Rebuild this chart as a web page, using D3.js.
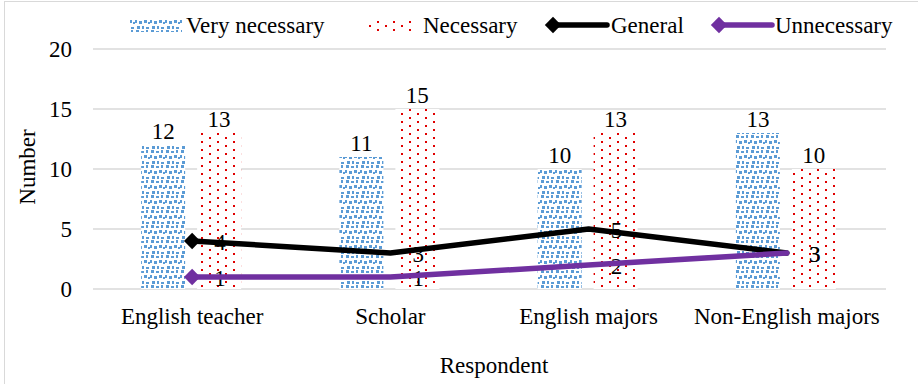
<!DOCTYPE html>
<html>
<head>
<meta charset="utf-8">
<script src="https://cdn.jsdelivr.net/npm/d3@7"></script>
<style>
  body { margin: 0; background: #fff; }
  text { font-family: "Liberation Serif", "Times New Roman", serif; fill: #000; }
</style>
</head>
<body>
<div id="chart"></div>
<script>
var categories = ["English teacher", "Scholar", "English majors", "Non-English majors"];
var veryNecessary = [12, 11, 10, 13];
var necessary = [13, 15, 13, 10];
var general = [4, 3, 5, 3];
var unnecessary = [1, 1, 2, 3];
var yTicks = [0, 5, 10, 15, 20];
var barSeries = ["Very necessary", "Necessary"];

gen_chart();

function gen_chart() {
  var w = 918, h = 384;
  var plotLeft = 93, plotRight = 886, plotTop = 49, plotBottom = 289;
  var fs = 23;

  var svg = d3.select("#chart").append("svg")
    .attr("width", w)
    .attr("height", h);

  // patterns
  var defs = svg.append("defs");
  var pb = defs.append("pattern")
    .attr("id", "confetti")
    .attr("patternUnits", "userSpaceOnUse")
    .attr("width", 15).attr("height", 15);
  pb.append("rect").attr("width", 15).attr("height", 15).attr("fill", "#fff");
  [[1,0,3,3],[6,1,3,2],[11,0,2,3],[0,5,2,3],[4,6,3,3],[9,5,3,3],[13,7,2,2],
   [2,11,3,3],[7,11,2,3],[11,12,3,2],[6,15,0,0]].forEach(function(r) {
    pb.append("rect").attr("x", r[0]).attr("y", r[1]).attr("width", r[2]).attr("height", r[3]).attr("fill", "#5B9BD5");
  });
  var pr = defs.append("pattern")
    .attr("id", "dots")
    .attr("patternUnits", "userSpaceOnUse")
    .attr("width", 16).attr("height", 8);
  pr.append("rect").attr("width", 16).attr("height", 8).attr("fill", "#fff");
  pr.append("rect").attr("x", 1).attr("y", 1).attr("width", 2).attr("height", 2).attr("fill", "#E00000");
  pr.append("rect").attr("x", 9).attr("y", 5).attr("width", 2).attr("height", 2).attr("fill", "#E00000");

  // chart border
  svg.append("rect")
    .attr("x", 4.5).attr("y", 1.5)
    .attr("width", w + 10).attr("height", h + 10)
    .attr("fill", "none")
    .attr("stroke", "#d9d9d9");

  var x0 = d3.scaleBand().domain(categories).range([plotLeft, plotRight]);
  var bw = x0.bandwidth();
  var x1 = d3.scaleBand().domain(barSeries)
    .range([bw / 2 - 51, bw / 2 + 49])
    .paddingInner(0.214);
  var y = d3.scaleLinear().domain([0, 20]).range([plotBottom, plotTop]);

  // gridlines
  svg.append("g").selectAll("line")
    .data(yTicks)
    .enter().append("line")
    .attr("x1", plotLeft).attr("x2", plotRight)
    .attr("y1", function(d) { return y(d); })
    .attr("y2", function(d) { return y(d); })
    .attr("stroke", "#d9d9d9")
    .attr("stroke-width", 1.3);

  // y axis labels
  var yaxis = d3.axisLeft(y).tickValues(yTicks).tickSize(0).tickPadding(0);
  var yg = svg.append("g")
    .attr("transform", "translate(72,0)")
    .call(yaxis);
  yg.select(".domain").remove();
  yg.selectAll("text")
    .style("font-size", fs + "px")
    .style("font-family", "Liberation Serif")
    .attr("dy", "0.34em");

  // x axis labels
  var xaxis = d3.axisBottom(x0).tickSize(0).tickPadding(0);
  var xg = svg.append("g")
    .attr("transform", "translate(0," + plotBottom + ")")
    .call(xaxis);
  xg.select(".domain").remove();
  xg.selectAll("text")
    .style("font-size", fs + "px")
    .style("font-family", "Liberation Serif")
    .attr("dy", 0).attr("y", 35);

  // bars
  var barData = [];
  categories.forEach(function(c, i) {
    barData.push({ cat: c, s: barSeries[0], v: veryNecessary[i], fill: "url(#confetti)" });
    barData.push({ cat: c, s: barSeries[1], v: necessary[i], fill: "url(#dots)" });
  });
  svg.append("g").selectAll("rect")
    .data(barData)
    .enter().append("rect")
    .attr("x", function(d) { return x0(d.cat) + x1(d.s); })
    .attr("y", function(d) { return y(d.v); })
    .attr("width", x1.bandwidth())
    .attr("height", function(d) { return y(0) - y(d.v); })
    .attr("fill", function(d) { return d.fill; });

  svg.append("g").selectAll("text")
    .data(barData)
    .enter().append("text")
    .attr("x", function(d) { return x0(d.cat) + x1(d.s) + x1.bandwidth() / 2; })
    .attr("y", function(d) { return y(d.v) - 6; })
    .attr("text-anchor", "middle")
    .style("font-size", fs + "px")
    .text(function(d) { return d.v; });

  // lines
  function cx(i) { return x0(categories[i]) + bw / 2; }
  var line = d3.line()
    .x(function(d, i) { return cx(i); })
    .y(function(d) { return y(d); });
  var diamond = d3.symbol().type(d3.symbolDiamond2).size(170);
  var lineSeries = [{ vals: general, color: "#000" }, { vals: unnecessary, color: "#7030A0" }];

  lineSeries.forEach(function(s) {
    svg.append("g").selectAll("text")
      .data(s.vals)
      .enter().append("text")
      .attr("x", function(d, i) { return cx(i) + 22; })
      .attr("y", function(d) { return y(d) + 9; })
      .style("font-size", fs + "px")
      .text(function(d) { return d; });
  });
  lineSeries.forEach(function(s) {
    svg.append("path")
      .datum(s.vals)
      .attr("fill", "none")
      .attr("stroke", s.color)
      .attr("stroke-width", 5.5)
      .attr("stroke-linejoin", "round")
      .attr("stroke-linecap", "round")
      .attr("d", line);
    svg.append("path")
      .attr("d", diamond)
      .attr("transform", "translate(" + cx(0) + "," + y(s.vals[0]) + ")")
      .attr("fill", s.color);
  });

  // legend
  var lg = svg.append("g");
  var ly = 25;
  lg.append("rect").attr("x", 130).attr("y", ly - 6).attr("width", 52).attr("height", 13).attr("fill", "url(#confetti)");
  lg.append("text").attr("x", 186).attr("y", ly + 8).style("font-size", fs + "px").text("Very necessary");
  lg.append("rect").attr("x", 365).attr("y", ly - 6).attr("width", 52).attr("height", 13).attr("fill", "url(#dots)");
  lg.append("text").attr("x", 423).attr("y", ly + 8).style("font-size", fs + "px").text("Necessary");
  lg.append("line").attr("x1", 550).attr("x2", 607).attr("y1", ly).attr("y2", ly)
    .attr("stroke", "#000").attr("stroke-width", 5.5).attr("stroke-linecap", "round");
  lg.append("path").attr("d", diamond).attr("transform", "translate(553," + ly + ")").attr("fill", "#000");
  lg.append("text").attr("x", 611).attr("y", ly + 8).style("font-size", fs + "px").text("General");
  lg.append("line").attr("x1", 716).attr("x2", 772).attr("y1", ly).attr("y2", ly)
    .attr("stroke", "#7030A0").attr("stroke-width", 5.5).attr("stroke-linecap", "round");
  lg.append("path").attr("d", diamond).attr("transform", "translate(719," + ly + ")").attr("fill", "#7030A0");
  lg.append("text").attr("x", 775).attr("y", ly + 8).style("font-size", fs + "px").text("Unnecessary");

  // axis titles
  svg.append("text")
    .attr("transform", "translate(35,167) rotate(-90)")
    .attr("text-anchor", "middle")
    .style("font-size", fs + "px")
    .text("Number");
  svg.append("text")
    .attr("x", 494).attr("y", 373)
    .attr("text-anchor", "middle")
    .style("font-size", fs + "px")
    .text("Respondent");
}
</script>
</body>
</html>
